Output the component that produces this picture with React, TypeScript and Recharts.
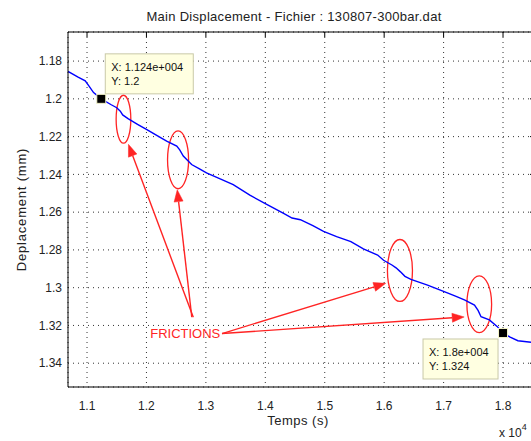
import React from 'react';
import {
  LineChart,
  Line,
  XAxis,
  YAxis,
  CartesianGrid,
  ReferenceArea,
  ReferenceLine,
  ReferenceDot,
  Label,
} from 'recharts';

// Temps (s) et deplacement (mm)
const temps = [
  10680, 10850, 10970, 11040, 11110, 11240, 11400, 11500, 11560, 11600,
  11690, 11850, 12000, 12180, 12340, 12510, 12560, 12620, 12760, 12900,
  13010, 13250, 13460, 13740, 14000, 14300, 14450, 14590, 14800, 14980,
  15200, 15440, 15650, 15890, 15990, 16130, 16200, 16270, 16350, 16450,
  16730, 17010, 17200, 17350, 17520, 17580, 17630, 17770, 17900, 18000,
  18120, 18250, 18538,
];
const deplacement = [
  1.1855, 1.1885, 1.1905, 1.1935, 1.1967, 1.2, 1.203, 1.2047, 1.2065, 1.2085,
  1.2105, 1.2135, 1.2162, 1.2195, 1.2224, 1.225, 1.227, 1.2303, 1.2348, 1.2372,
  1.2392, 1.2425, 1.2454, 1.251, 1.2555, 1.2605, 1.2631, 1.264, 1.2672, 1.2702,
  1.273, 1.2756, 1.2795, 1.2827, 1.2855, 1.288, 1.2895, 1.2915, 1.294, 1.2956,
  1.2986, 1.3021, 1.3045, 1.3065, 1.3092, 1.312, 1.3154, 1.3171, 1.3205, 1.324,
  1.3262, 1.3281, 1.3291,
];

const xTicks = [11000, 12000, 13000, 14000, 15000, 16000, 17000, 18000];
const yTicks = [1.18, 1.2, 1.22, 1.24, 1.26, 1.28, 1.3, 1.32, 1.34];

// zones de frottement entourées (bornes en temps / deplacement)
const zoneT1 = [11490, 12355, 16055, 17392];
const zoneT2 = [11737, 12709, 16476, 17808];
const zoneD1 = [1.1981, 1.217, 1.2745, 1.2937];
const zoneD2 = [1.2235, 1.2476, 1.3073, 1.3238];

// flèches "FRICTIONS" : départ -> pointe
const arrowT1 = [12788, 12763, 13272, 13272];
const arrowD1 = [1.3156, 1.3156, 1.3243, 1.3243];
const arrowT2 = [11697, 12518, 16026, 17346];
const arrowD2 = [1.2241, 1.2481, 1.2977, 1.3155];

const frictionLabel = 'FRICTIONS';
const frictionT = 12063;
const frictionD = 1.3241;

// data tips
const tipT = [11240, 18000];
const tipD = [1.2, 1.324];
const tipX = ['X: 1.124e+004', 'X: 1.8e+004'];
const tipY = ['Y: 1.2', 'Y: 1.324'];

const chartData = temps.map((t, i) => ({ t, d: deplacement[i] }));

const FONT = '"Liberation Sans", Arial, Helvetica, sans-serif';
const RED = '#ff2424';
const X_DOMAIN = [10680, 18538];
const Y_DOMAIN = [1.1646, 1.3526];

const Arrow = (p: any) => {
  const { x1, y1, x2, y2 } = p;
  const ang = Math.atan2(y2 - y1, x2 - x1);
  const len = 12;
  const w = 4.5;
  const bx = x2 - len * Math.cos(ang);
  const by = y2 - len * Math.sin(ang);
  const nx = -Math.sin(ang) * w;
  const ny = Math.cos(ang) * w;
  return (
    <g>
      <line x1={x1} y1={y1} x2={bx} y2={by} stroke={RED} strokeWidth={1.4} />
      <polygon
        points={`${x2},${y2} ${bx + nx},${by + ny} ${bx - nx},${by - ny}`}
        fill={RED}
        stroke={RED}
        strokeWidth={0.5}
      />
    </g>
  );
};

const makeTip = (i: number) => (p: any) => {
  const { cx, cy } = p;
  // premier tip au-dessus à droite, second en dessous à gauche
  const bx = i === 0 ? cx + 4 : cx - 80;
  const by = i === 0 ? cy - 45 : cy + 6;
  const bw = i === 0 ? 88 : 75;
  return (
    <g>
      <rect x={bx} y={by} width={bw} height={40} fill="#ffffe1" stroke="#c9c9a8" strokeWidth={1} />
      <text x={bx + 6} y={by + 17} fontSize={11} fill="#111" fontFamily={FONT}>
        {tipX[i]}
      </text>
      <text x={bx + 6} y={by + 31} fontSize={11} fill="#111" fontFamily={FONT}>
        {tipY[i]}
      </text>
      <rect x={cx - 4.5} y={cy - 4.5} width={9} height={9} fill="#000" stroke="#f4f4c8" strokeWidth={1} />
    </g>
  );
};

export default function App(): React.ReactElement {
  return (
    <div
      style={{
        position: 'absolute',
        left: 0,
        top: 0,
        width: 531,
        height: 441,
        overflow: 'hidden',
        background: '#fff',
      }}
    >
      <LineChart
        width={540}
        height={441}
        data={chartData}
        margin={{ top: 32, right: 5, bottom: 0, left: 0 }}
        style={{ fontFamily: FONT }}
      >
        <CartesianGrid stroke="#333" strokeDasharray="1 4" />
        <XAxis
          dataKey="t"
          type="number"
          domain={X_DOMAIN}
          ticks={xTicks}
          allowDataOverflow
          height={54}
          tickLine={false}
          tickSize={6}
          tickMargin={8}
          axisLine={{ stroke: '#000' }}
          tick={{ fontSize: 12, fill: '#222' }}
          tickFormatter={(v: number) => String(v / 10000)}
        >
          <Label
            content={() => (
              <g fontFamily={FONT} fill="#222">
                <text x={298} y={425} fontSize={13} letterSpacing={0.5} textAnchor="middle">
                  Temps (s)
                </text>
                <text x={499} y={437} fontSize={12}>
                  x 10
                  <tspan dy={-7} fontSize={9}>
                    4
                  </tspan>
                </text>
              </g>
            )}
          />
        </XAxis>
        <XAxis
          xAxisId="top"
          orientation="top"
          dataKey="t"
          type="number"
          domain={X_DOMAIN}
          ticks={xTicks}
          allowDataOverflow
          height={1}
          mirror
          tickSize={5}
          tickLine={{ stroke: '#000' }}
          axisLine={{ stroke: '#000' }}
          tick={() => <g />}
        >
          <Label
            content={() => (
              <text
                x={294}
                y={21}
                fontSize={13}
                letterSpacing={0.3}
                textAnchor="middle"
                fill="#222"
                fontFamily={FONT}
              >
                Main Displacement - Fichier : 130807-300bar.dat
              </text>
            )}
          />
        </XAxis>
        <YAxis
          type="number"
          domain={Y_DOMAIN}
          ticks={yTicks}
          reversed
          allowDataOverflow
          width={68}
          tickLine={false}
          tickSize={5}
          tickMargin={1}
          axisLine={{ stroke: '#000' }}
          tick={{ fontSize: 12, fill: '#222' }}
        >
          <Label
            content={(props: any) => {
              const vb = props.viewBox;
              const cy = vb.y + vb.height / 2;
              return (
                <text
                  x={26}
                  y={cy}
                  transform={`rotate(-90, 26, ${cy})`}
                  fontSize={13}
                  letterSpacing={0.8}
                  textAnchor="middle"
                  fill="#222"
                  fontFamily={FONT}
                >
                  Deplacement (mm)
                </text>
              );
            }}
          />
        </YAxis>
        <YAxis
          yAxisId="right"
          orientation="right"
          type="number"
          domain={Y_DOMAIN}
          ticks={yTicks}
          reversed
          allowDataOverflow
          width={1}
          mirror
          tickSize={5}
          tickLine={{ stroke: '#000' }}
          axisLine={{ stroke: '#000' }}
          tick={() => <g />}
        />
        <Line
          type="linear"
          dataKey="d"
          stroke="#0000ff"
          strokeWidth={1.4}
          dot={false}
          isAnimationActive={false}
        />
        {zoneT1.map((t1, i) => (
          <ReferenceArea
            key={`z${i}`}
            x1={t1}
            x2={zoneT2[i]}
            y1={zoneD1[i]}
            y2={zoneD2[i]}
            ifOverflow="visible"
            shape={(p: any) => (
              <ellipse
                cx={p.x + p.width / 2}
                cy={p.y + p.height / 2}
                rx={Math.abs(p.width) / 2}
                ry={Math.abs(p.height) / 2}
                fill="none"
                stroke={RED}
                strokeWidth={1.3}
              />
            )}
          />
        ))}
        {arrowT1.map((t1, i) => (
          <ReferenceLine
            key={`a${i}`}
            segment={[
              { x: t1, y: arrowD1[i] },
              { x: arrowT2[i], y: arrowD2[i] },
            ]}
            ifOverflow="visible"
            shape={(p: any) => <Arrow {...p} />}
          />
        ))}
        <ReferenceDot
          x={frictionT}
          y={frictionD}
          ifOverflow="visible"
          shape={(p: any) => (
            <text x={p.cx} y={p.cy + 5} fontSize={13} fill={RED} fontFamily={FONT}>
              {frictionLabel}
            </text>
          )}
        />
        {tipT.map((t, i) => (
          <ReferenceDot key={`tip${i}`} x={t} y={tipD[i]} ifOverflow="visible" shape={makeTip(i)} />
        ))}
      </LineChart>
    </div>
  );
}
